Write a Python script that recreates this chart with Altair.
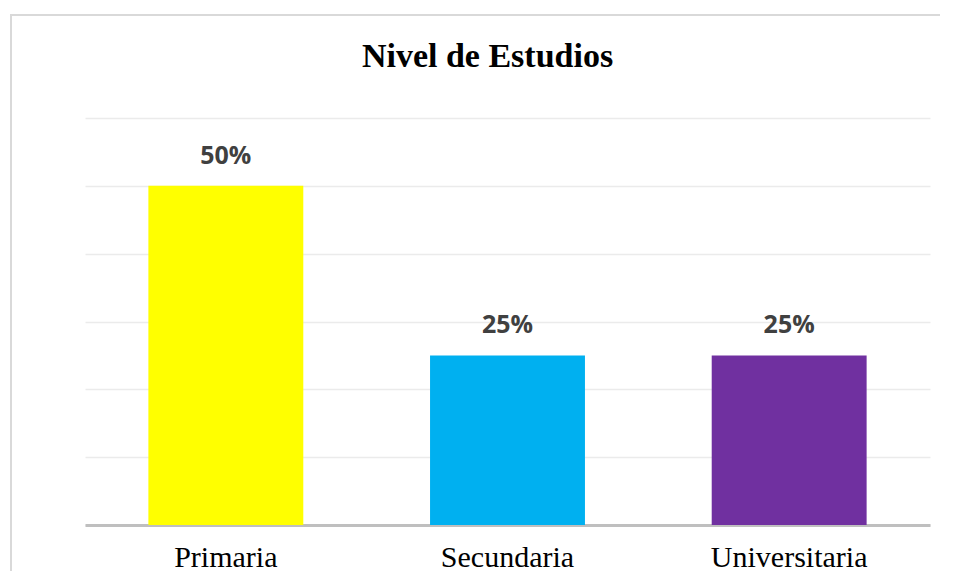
import altair as alt
import pandas as pd

categories = ["Primaria", "Secundaria", "Universitaria"]
values = [0.50, 0.25, 0.25]
labels = ["50%", "25%", "25%"]
colors = ["#FFFF00", "#00B0F0", "#7030A0"]
grid_ticks = [0.0, 0.1, 0.2, 0.3, 0.4, 0.5, 0.6]

df = pd.DataFrame({"cat": categories, "val": values, "lab": labels})

W, H = 845, 407
PAD = {"left": 77, "top": 110, "right": 19, "bottom": 47}

x = alt.X("cat:N", sort=categories,
          scale=alt.Scale(paddingInner=0.45, paddingOuter=0.225),
          axis=alt.Axis(title=None, labelAngle=0, labelFont="Liberation Serif",
                        labelFontSize=30, labelColor="#000000", labelPadding=17,
                        ticks=False, domainColor="#BFBFBF", domainWidth=3, grid=False))
y = alt.Y("val:Q", scale=alt.Scale(domain=[0, 0.6], nice=False),
          axis=alt.Axis(title=None, labels=False, ticks=False, domain=False,
                        values=grid_ticks, grid=True, gridColor="#EBEBEB", gridWidth=1.5))

bars = alt.Chart(df).mark_bar().encode(
    x=x, y=y,
    color=alt.Color("cat:N", scale=alt.Scale(domain=categories, range=colors), legend=None),
)

text = alt.Chart(df).mark_text(font="Open Sans", fontWeight="bold", fontSize=25,
                               color="#404040", dy=-30).encode(
    x=alt.X("cat:N", sort=categories), y="val:Q", text="lab:N")

bx = -PAD["left"] + 2
by = -PAD["top"] + 6
border_top = alt.Chart(df).mark_rect(color="#D9D9D9").encode(
    x=alt.value(bx), x2=alt.value(W + 10),
    y=alt.value(by), y2=alt.value(by + 2))
border_left = alt.Chart(df).mark_rect(color="#D9D9D9").encode(
    x=alt.value(bx), x2=alt.value(bx + 2),
    y=alt.value(by), y2=alt.value(H + PAD["bottom"] - 1))

chart = alt.layer(border_top, border_left, bars, text).properties(
    width=W, height=H,
    title=alt.TitleParams("Nivel de Estudios", font="Liberation Serif", fontSize=34,
                          fontWeight="bold", color="#000000", anchor="middle",
                          dx=-20, offset=-60),
    autosize=alt.AutoSizeParams(type="none"),
    padding=PAD,
).configure_view(stroke=None)

chart.save("out.html", embed_options={"renderer": "svg", "actions": False})
